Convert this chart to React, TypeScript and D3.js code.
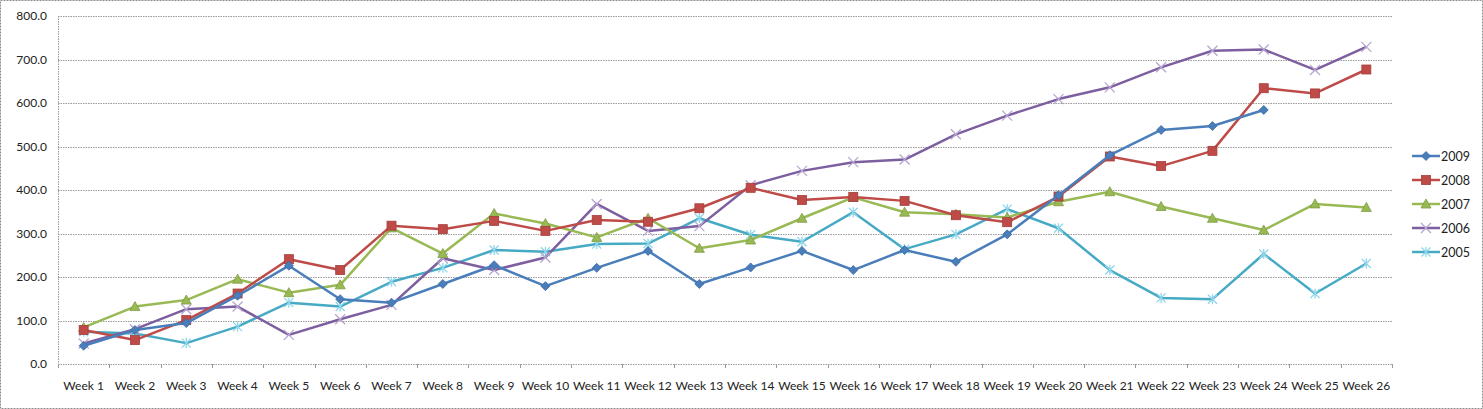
import { useEffect, useRef } from "react"
import * as d3 from "d3"

// chart data
const weeks = Array.from({ length: 26 }, (_, i) => `Week ${i + 1}`)
const yTicks = [0, 100, 200, 300, 400, 500, 600, 700, 800]

const s2009 = [42, 78, 94, 157, 226, 149, 141, 184, 227, 179, 221, 260, 184, 222, 260, 216, 262, 235, 298, 388, 480, 538, 547, 584]
const s2008 = [78, 55, 101, 162, 241, 216, 318, 310, 329, 306, 331, 327, 358, 405, 377, 384, 375, 342, 326, 385, 477, 455, 490, 634, 622, 677]
const s2007 = [84, 132, 147, 195, 164, 182, 313, 254, 346, 323, 291, 335, 266, 285, 335, 383, 349, 344, 337, 373, 396, 362, 335, 308, 368, 360]
const s2006 = [47, 80, 126, 132, 67, 103, 136, 243, 216, 245, 368, 306, 317, 411, 444, 464, 470, 528, 571, 609, 636, 682, 720, 723, 676, 729]
const s2005 = [74, 70, 48, 86, 141, 132, 189, 221, 262, 258, 276, 277, 335, 297, 281, 349, 264, 298, 356, 312, 216, 152, 149, 253, 162, 231]

const series = [
  { name: "2009", values: s2009, color: "#4a7ebb", marker: "diamond", markColor: "#4a7ebb" },
  { name: "2008", values: s2008, color: "#be4b48", marker: "square", markColor: "#be4b48" },
  { name: "2007", values: s2007, color: "#98b954", marker: "triangle", markColor: "#98b954" },
  { name: "2006", values: s2006, color: "#7d5fa0", marker: "x", markColor: "#b7a6d0" },
  { name: "2005", values: s2005, color: "#46aac5", marker: "star", markColor: "#8fd6ea" },
]

const W = 1483
const H = 409
const margin = { top: 16, right: 91, bottom: 45, left: 58 }
const font = "Lato, 'Open Sans', sans-serif"

function drawMarker(g: d3.Selection<SVGGElement, unknown, null, undefined>, type: string, x: number, y: number, color: string) {
  if (type === "diamond") {
    g.append("path").attr("d", `M${x},${y - 4.5}L${x + 4.5},${y}L${x},${y + 4.5}L${x - 4.5},${y}Z`).attr("fill", color).attr("stroke", "#3a6aa3").attr("stroke-width", 0.8)
  } else if (type === "square") {
    g.append("rect").attr("x", x - 4.5).attr("y", y - 4.5).attr("width", 9).attr("height", 9).attr("fill", color).attr("stroke", "#a53e3b").attr("stroke-width", 0.8)
  } else if (type === "triangle") {
    g.append("path").attr("d", `M${x},${y - 5}L${x + 5},${y + 4}L${x - 5},${y + 4}Z`).attr("fill", color).attr("stroke", "#7f9c42").attr("stroke-width", 0.8)
  } else if (type === "x") {
    g.append("path").attr("d", `M${x - 5},${y - 5}L${x + 5},${y + 5}M${x - 5},${y + 5}L${x + 5},${y - 5}`).attr("stroke", color).attr("stroke-width", 1.3)
  } else {
    g.append("path").attr("d", `M${x - 4.5},${y - 4.5}L${x + 4.5},${y + 4.5}M${x - 4.5},${y + 4.5}L${x + 4.5},${y - 4.5}M${x},${y - 5}L${x},${y + 5}`).attr("stroke", color).attr("stroke-width", 1.3)
  }
}

export default function App() {
  const svgRef = useRef<SVGSVGElement>(null)

  useEffect(() => {
    document.body.style.margin = "0"
    if (!svgRef.current) return
    const root = d3.select(svgRef.current)
    root.selectAll("*").remove()

    // outer dashed frame
    root.append("rect").attr("x", 0.5).attr("y", 0.5).attr("width", W - 1).attr("height", H - 1)
      .attr("fill", "#fff").attr("stroke", "#8c8c8c").attr("stroke-dasharray", "2,1")

    const x0 = margin.left
    const x1 = W - margin.right
    const y0 = H - margin.bottom

    const x = d3.scaleBand().domain(weeks).range([x0, x1])
    const y = d3.scaleLinear().domain([0, 800]).range([y0, margin.top])

    // gridlines
    root.append("g").selectAll("line").data(yTicks).enter().append("line")
      .attr("x1", x0).attr("x2", x1)
      .attr("y1", (d) => Math.round(y(d)) + 0.5).attr("y2", (d) => Math.round(y(d)) + 0.5)
      .attr("stroke", "#9a9a9a").attr("stroke-dasharray", "1.5,1")

    // left axis line
    root.append("line").attr("x1", x0 + 0.5).attr("x2", x0 + 0.5).attr("y1", y(800)).attr("y2", y0)
      .attr("stroke", "#9a9a9a").attr("stroke-dasharray", "1.5,1")

    // y labels
    root.append("g").selectAll("text").data(yTicks).enter().append("text")
      .attr("x", x0 - 11).attr("y", (d) => y(d) + 4)
      .attr("text-anchor", "end").attr("font-family", font).attr("font-size", 12).attr("fill", "#222")
      .text((d) => d3.format(".1f")(d))

    // x ticks at category boundaries
    const bounds = weeks.map((w) => x(w) as number).concat([x1])
    root.append("g").selectAll("line").data(bounds).enter().append("line")
      .attr("x1", (d) => Math.round(d) + 0.5).attr("x2", (d) => Math.round(d) + 0.5)
      .attr("y1", y0).attr("y2", y0 + 4)
      .attr("stroke", "#9a9a9a")

    // x labels
    root.append("g").selectAll("text").data(weeks).enter().append("text")
      .attr("x", (d) => (x(d) as number) + x.bandwidth() / 2).attr("y", y0 + 26)
      .attr("text-anchor", "middle").attr("font-family", font).attr("font-size", 12).attr("fill", "#222")
      .text((d) => d)

    const cx = (i: number) => (x(weeks[i]) as number) + x.bandwidth() / 2
    const line = d3.line<number>().x((_, i) => cx(i)).y((d) => y(d))

    // draw bottom series first so 2009 ends up on top
    const order = [...series].reverse()
    order.forEach((s) => {
      root.append("path").datum(s.values).attr("d", line)
        .attr("fill", "none").attr("stroke", s.color).attr("stroke-width", 2.5).attr("stroke-linejoin", "round")
      const mg = root.append("g")
      s.values.forEach((v, i) => drawMarker(mg, s.marker, cx(i), y(v), s.markColor))
    })

    // legend
    const lg = root.append("g")
    series.forEach((s, i) => {
      const ly = 156 + i * 24
      lg.append("line").attr("x1", 1412).attr("x2", 1440).attr("y1", ly).attr("y2", ly)
        .attr("stroke", s.color).attr("stroke-width", 2.5)
      const mg = lg.append("g")
      drawMarker(mg, s.marker, 1426, ly, s.markColor)
      lg.append("text").attr("x", 1441).attr("y", ly + 4.5)
        .attr("font-family", font).attr("font-size", 12.5).attr("fill", "#222").text(s.name)
    })
  }, [])

  return <svg ref={svgRef} width={W} height={H} style={{ display: "block" }} />
}
